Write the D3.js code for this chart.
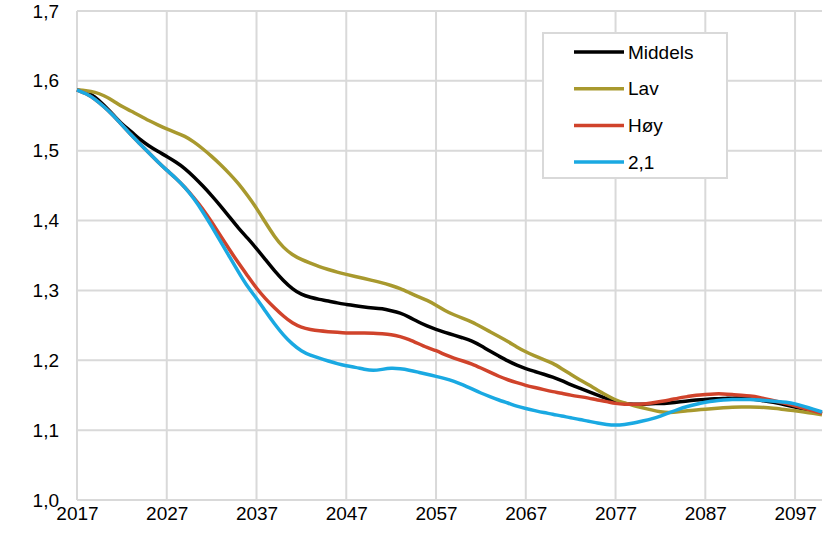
<!DOCTYPE html>
<html>
<head>
<meta charset="utf-8">
<script src="https://cdn.jsdelivr.net/npm/d3@7"></script>
<style>
  body { margin: 0; background: #fff; }
  svg { font-family: "Liberation Sans", Arial, sans-serif; }
</style>
</head>
<body>
<div id="chart"></div>
<script>
// years 2017..2100
var startYear = 2017;
var endYear = 2100;
var tickYears = [2017, 2027, 2037, 2047, 2057, 2067, 2077, 2087, 2097];
var yTicks = [1.0, 1.1, 1.2, 1.3, 1.4, 1.5, 1.6, 1.7];
var seriesNames = ["Middels", "Lav", "Høy", "2,1"];

var middels = [
  1.587, 1.584, 1.578, 1.565, 1.552, 1.538, 1.528, 1.516, 1.507, 1.499,
  1.492, 1.484, 1.475, 1.463, 1.450, 1.436, 1.421, 1.405, 1.389, 1.375,
  1.360, 1.344, 1.328, 1.314, 1.302, 1.294, 1.290, 1.287, 1.285, 1.282,
  1.280, 1.278, 1.276, 1.275, 1.274, 1.271, 1.268, 1.262, 1.255, 1.249,
  1.244, 1.240, 1.236, 1.232, 1.228, 1.221, 1.213, 1.206, 1.199, 1.193,
  1.188, 1.184, 1.180, 1.176, 1.171, 1.165, 1.160, 1.155, 1.150, 1.145,
  1.141, 1.138, 1.137, 1.137, 1.138, 1.138, 1.139, 1.140, 1.142, 1.143,
  1.144, 1.145, 1.145, 1.146, 1.146, 1.145, 1.143, 1.141, 1.139, 1.136,
  1.133, 1.130, 1.127, 1.124
];
var lav = [
  1.587, 1.586, 1.584, 1.579, 1.572, 1.563, 1.557, 1.550, 1.543, 1.537,
  1.531, 1.526, 1.521, 1.513, 1.503, 1.492, 1.480, 1.467, 1.453, 1.436,
  1.418, 1.397, 1.377, 1.361, 1.351, 1.344, 1.339, 1.334, 1.330, 1.326,
  1.323, 1.320, 1.317, 1.314, 1.311, 1.307, 1.303, 1.297, 1.291, 1.286,
  1.279, 1.271, 1.265, 1.260, 1.255, 1.248, 1.241, 1.234, 1.227, 1.219,
  1.212, 1.206, 1.201, 1.196, 1.188, 1.180, 1.172, 1.165, 1.157, 1.150,
  1.143, 1.139, 1.135, 1.132, 1.129, 1.126, 1.125, 1.126, 1.128, 1.129,
  1.130, 1.131, 1.132, 1.133, 1.133, 1.133, 1.133, 1.132, 1.131, 1.129,
  1.128, 1.126, 1.124, 1.122
];
var hoy = [
  1.587, 1.582, 1.574, 1.563, 1.551, 1.537, 1.523, 1.510, 1.497, 1.484,
  1.472, 1.461, 1.448, 1.433, 1.417, 1.398, 1.378, 1.358, 1.339, 1.321,
  1.303, 1.288, 1.275, 1.263, 1.253, 1.247, 1.244, 1.242, 1.241, 1.240,
  1.239, 1.239, 1.239, 1.239, 1.238, 1.237, 1.234, 1.230, 1.224, 1.218,
  1.214, 1.208, 1.203, 1.199, 1.195, 1.189, 1.183, 1.177, 1.172, 1.168,
  1.164, 1.161, 1.158, 1.155, 1.153, 1.150, 1.148, 1.146, 1.143, 1.141,
  1.138, 1.137, 1.137, 1.137, 1.139, 1.141, 1.143, 1.146, 1.148, 1.150,
  1.151, 1.152, 1.152, 1.151, 1.150, 1.149, 1.147, 1.144, 1.141, 1.138,
  1.135, 1.131, 1.128, 1.124
];
var to21 = [
  1.587, 1.582, 1.574, 1.563, 1.551, 1.537, 1.523, 1.510, 1.497, 1.484,
  1.472, 1.461, 1.448, 1.432, 1.413, 1.392, 1.370, 1.348, 1.326, 1.305,
  1.289, 1.270, 1.252, 1.236, 1.223, 1.213, 1.207, 1.203, 1.199, 1.195,
  1.192, 1.190, 1.187, 1.185, 1.187, 1.189, 1.188, 1.186, 1.183, 1.180,
  1.177, 1.174, 1.170, 1.165, 1.159, 1.153, 1.148, 1.143, 1.139, 1.134,
  1.131, 1.128, 1.125, 1.123, 1.120, 1.118, 1.115, 1.113, 1.110, 1.108,
  1.107, 1.108, 1.110, 1.113, 1.116, 1.120, 1.125, 1.130, 1.134, 1.137,
  1.140, 1.142, 1.143, 1.144, 1.144, 1.144, 1.143, 1.142, 1.141, 1.140,
  1.138, 1.134, 1.130, 1.126
];

var colors = ["#000000", "#a8992e", "#d0432b", "#1aa9e2"];

var width = 836;
var height = 533;
var margin = { top: 11, right: 14, bottom: 33, left: 77 };
var innerW = width - margin.left - margin.right;
var innerH = height - margin.top - margin.bottom;

var svg = d3.select("#chart")
  .append("svg")
  .attr("width", width)
  .attr("height", height);

var g = svg.append("g")
  .attr("transform", "translate(" + margin.left + "," + margin.top + ")");

var x = d3.scaleLinear().domain([startYear, endYear]).range([0, innerW]);
var y = d3.scaleLinear().domain([1.0, 1.7]).range([innerH, 0]);

// grid
g.append("g")
  .selectAll("line")
  .data(yTicks)
  .enter()
  .append("line")
  .attr("x1", 0)
  .attr("x2", innerW)
  .attr("y1", (d) => y(d))
  .attr("y2", (d) => y(d))
  .attr("stroke", "#d9d9d9")
  .attr("stroke-width", 2);

g.append("g")
  .selectAll("line")
  .data(tickYears)
  .enter()
  .append("line")
  .attr("x1", (d) => x(d))
  .attr("x2", (d) => x(d))
  .attr("y1", 0)
  .attr("y2", innerH)
  .attr("stroke", "#d9d9d9")
  .attr("stroke-width", 2);

// axes (labels only)
var yAxis = g.append("g")
  .call(d3.axisLeft(y).tickValues(yTicks).tickSize(0).tickPadding(18)
    .tickFormat((d) => d3.format(".1f")(d).replace(".", ",")));
yAxis.select(".domain").remove();
yAxis.selectAll("text")
  .style("font-size", "19px")
  .style("font-family", "Liberation Sans, Arial, sans-serif")
  .attr("fill", "#000");

var xAxis = g.append("g")
  .attr("transform", "translate(0," + innerH + ")")
  .call(d3.axisBottom(x).tickValues(tickYears).tickSize(0).tickPadding(7)
    .tickFormat(d3.format("d")));
xAxis.select(".domain").remove();
xAxis.selectAll("text")
  .style("font-size", "19px")
  .style("font-family", "Liberation Sans, Arial, sans-serif")
  .attr("fill", "#000");

// lines
var seriesData = [middels, lav, hoy, to21];
var line = d3.line()
  .x((d, i) => x(startYear + i))
  .y((d) => y(d))
  .curve(d3.curveBasis);

g.append("g")
  .selectAll("path")
  .data(seriesData)
  .enter()
  .append("path")
  .attr("d", line)
  .attr("fill", "none")
  .attr("stroke", (d, i) => colors[i])
  .attr("stroke-width", 3.5)
  .attr("stroke-linejoin", "round");

// legend
var legend = svg.append("g").attr("transform", "translate(543,33)");
legend.append("rect")
  .attr("width", 184)
  .attr("height", 145)
  .attr("fill", "#fff")
  .attr("stroke", "#d9d9d9")
  .attr("stroke-width", 2);

var items = legend.selectAll("g.item")
  .data(seriesNames)
  .enter()
  .append("g")
  .attr("class", "item")
  .attr("transform", (d, i) => "translate(0," + (19 + i * 36.7) + ")");

items.append("line")
  .attr("x1", 31)
  .attr("x2", 81)
  .attr("stroke", (d, i) => colors[i])
  .attr("stroke-width", 3.5);

items.append("text")
  .attr("x", 85)
  .attr("dy", "0.35em")
  .style("font-size", "19px")
  .text((d) => d);
</script>
</body>
</html>
